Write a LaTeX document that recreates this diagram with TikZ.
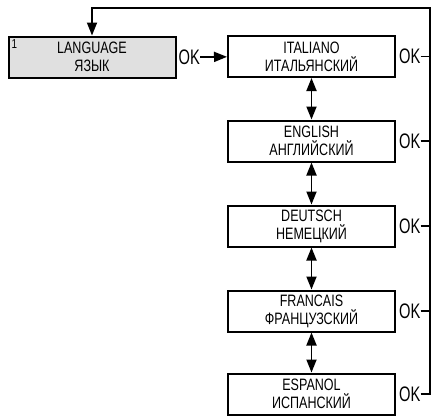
\documentclass[tikz,border=0pt]{standalone}
\usepackage{fontspec}
\setmainfont{Liberation Sans}[FakeStretch=0.76]
\newfontfamily\okfont{Liberation Sans}[FakeStretch=0.7]
\usetikzlibrary{arrows.meta,positioning}
\definecolor{menugray}{RGB}{224,224,224}

\begin{document}
\begin{tikzpicture}[x=1pt, y=-1pt,
    menubox/.style={draw, line width=2pt, minimum width=167pt, minimum height=41pt,
        align=center, inner sep=0pt, font=\fontsize{16.5}{18}\selectfont},
    oklabel/.style={inner sep=0pt, font=\okfont\fontsize{21}{21}\selectfont},
    link/.style={line width=1.8pt},
    tip/.style={-{Triangle[length=13pt,width=10pt]}},
    both/.style={{Triangle[length=13pt,width=10pt]}-{Triangle[length=13pt,width=10pt]}}]
    \useasboundingbox (0,0) rectangle (433,415);

    % Menu entry
    \node[menubox, fill=menugray] (lang) at (92,57) {LANGUAGE\\ЯЗЫК};
    \node[anchor=north west, inner sep=0pt, font=\fontsize{13}{13}\selectfont] (num)
        at ([xshift=4pt,yshift=-4pt]lang.north west) {1};
    \node[oklabel, right=2pt of lang] (langok) {OK};

    % Language choices
    \node[menubox] (ita) at (311.5,56.5) {ITALIANO\\ИТАЛЬЯНСКИЙ};
    \node[menubox] (eng) at (311.5,141) {ENGLISH\\АНГЛИЙСКИЙ};
    \node[menubox] (deu) at (311.5,226) {DEUTSCH\\НЕМЕЦКИЙ};
    \node[menubox] (fra) at (311.5,311) {FRANCAIS\\ФРАНЦУЗСКИЙ};
    \node[menubox] (esp) at (311.5,394) {ESPANOL\\ИСПАНСКИЙ};

    % OK labels on the right
    \foreach \n in {ita,eng,deu,fra,esp} {
        \node[oklabel, right=3pt of \n] (\n ok) {OK};
    }

    % Return line
    \coordinate (corner) at (430,8);
    \draw[link, tip] (espok.east) -| (corner) -| (lang.north);
    \foreach \n in {ita,eng,deu,fra} {
        \draw[link] (\n ok.east) -- (\n ok.east -| corner);
    }

    % Arrows
    \draw[link, tip] (langok) -- (ita);
    \draw[link, both] (ita) -- (eng);
    \draw[link, both] (eng) -- (deu);
    \draw[link, both] (deu) -- (fra);
    \draw[link, both] (fra) -- (esp);
\end{tikzpicture}
\end{document}
